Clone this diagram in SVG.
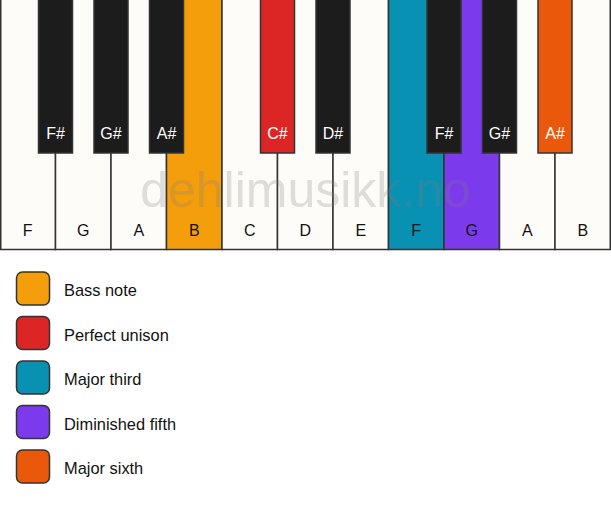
<svg xmlns="http://www.w3.org/2000/svg" width="611" height="506" viewBox="0 0 611 506">
<style>
.w{fill:#fdfcf9;stroke:#333;stroke-width:1.5}
.b{fill:#1c1c1c;stroke:#333;stroke-width:1.5}
.t{font-family:"Liberation Sans",Arial,sans-serif;font-size:16px;text-anchor:middle}
.tw{fill:#fff}
.tk{fill:#111}
.lg{stroke:#333;stroke-width:1.5}
.lt{font-family:"Liberation Sans",Arial,sans-serif;font-size:16.4px;fill:#111}
</style>
<rect width="611" height="506" fill="#fff"/>
<g id="white-keys">
<g id="wk-F1"><rect class="w" x="0.75" y="-1" width="54.75" height="250.5"/><text class="t tk" x="27.75" y="236">F</text></g>
<g id="wk-G1"><rect class="w" x="55.5" y="-1" width="55.5" height="250.5"/><text class="t tk" x="83.25" y="236">G</text></g>
<g id="wk-A1"><rect class="w" x="111" y="-1" width="55.5" height="250.5"/><text class="t tk" x="138.75" y="236">A</text></g>
<g id="wk-B1"><rect class="w" x="166.5" y="-1" width="55.5" height="250.5" style="fill:#f59e0b"/><text class="t tk" x="194.25" y="236">B</text></g>
<g id="wk-C"><rect class="w" x="222" y="-1" width="55.5" height="250.5"/><text class="t tk" x="249.75" y="236">C</text></g>
<g id="wk-D"><rect class="w" x="277.5" y="-1" width="55.5" height="250.5"/><text class="t tk" x="305.25" y="236">D</text></g>
<g id="wk-E"><rect class="w" x="333" y="-1" width="55.5" height="250.5"/><text class="t tk" x="360.75" y="236">E</text></g>
<g id="wk-F2"><rect class="w" x="388.5" y="-1" width="55.5" height="250.5" style="fill:#0891b2"/><text class="t tk" x="416.25" y="236">F</text></g>
<g id="wk-G2"><rect class="w" x="444" y="-1" width="55.5" height="250.5" style="fill:#7c3aed"/><text class="t tk" x="471.75" y="236">G</text></g>
<g id="wk-A2"><rect class="w" x="499.5" y="-1" width="55.5" height="250.5"/><text class="t tk" x="527.25" y="236">A</text></g>
<g id="wk-B2"><rect class="w" x="555" y="-1" width="55.25" height="250.5"/><text class="t tk" x="582.75" y="236">B</text></g>
</g>
<g id="black-keys">
<g id="bk-Fs1"><rect class="b" x="38.5" y="-1" width="34" height="154"/><text class="t tw" x="55.5" y="139">F#</text></g>
<g id="bk-Gs1"><rect class="b" x="94" y="-1" width="34" height="154"/><text class="t tw" x="111" y="139">G#</text></g>
<g id="bk-As1"><rect class="b" x="149.5" y="-1" width="34" height="154"/><text class="t tw" x="166.5" y="139">A#</text></g>
<g id="bk-Cs"><rect class="b" x="260.5" y="-1" width="34" height="154" style="fill:#dc2626"/><text class="t tw" x="277.5" y="139">C#</text></g>
<g id="bk-Ds"><rect class="b" x="316" y="-1" width="34" height="154"/><text class="t tw" x="333" y="139">D#</text></g>
<g id="bk-Fs2"><rect class="b" x="427" y="-1" width="34" height="154"/><text class="t tw" x="444" y="139">F#</text></g>
<g id="bk-Gs2"><rect class="b" x="482.5" y="-1" width="34" height="154"/><text class="t tw" x="499.5" y="139">G#</text></g>
<g id="bk-As2"><rect class="b" x="538" y="-1" width="34" height="154" style="fill:#ea580c"/><text class="t tw" x="555" y="139">A#</text></g>
</g>
<text id="watermark" x="305.5" y="207" font-family="Liberation Sans, Arial, sans-serif" font-size="50" text-anchor="middle" fill="#808080" fill-opacity="0.25">dehlimusikk.no</text>
<g id="legend">
<g id="lg-bass"><rect class="lg" x="16.5" y="272" width="33" height="33" rx="6" fill="#f59e0b"/><text class="lt" x="64" y="296">Bass note</text></g>
<g id="lg-unison"><rect class="lg" x="16.5" y="316.5" width="33" height="33" rx="6" fill="#dc2626"/><text class="lt" x="64" y="340.5">Perfect unison</text></g>
<g id="lg-third"><rect class="lg" x="16.5" y="361" width="33" height="33" rx="6" fill="#0891b2"/><text class="lt" x="64" y="385">Major third</text></g>
<g id="lg-fifth"><rect class="lg" x="16.5" y="405.5" width="33" height="33" rx="6" fill="#7c3aed"/><text class="lt" x="64" y="429.5">Diminished fifth</text></g>
<g id="lg-sixth"><rect class="lg" x="16.5" y="450" width="33" height="33" rx="6" fill="#ea580c"/><text class="lt" x="64" y="474">Major sixth</text></g>
</g>
</svg>
